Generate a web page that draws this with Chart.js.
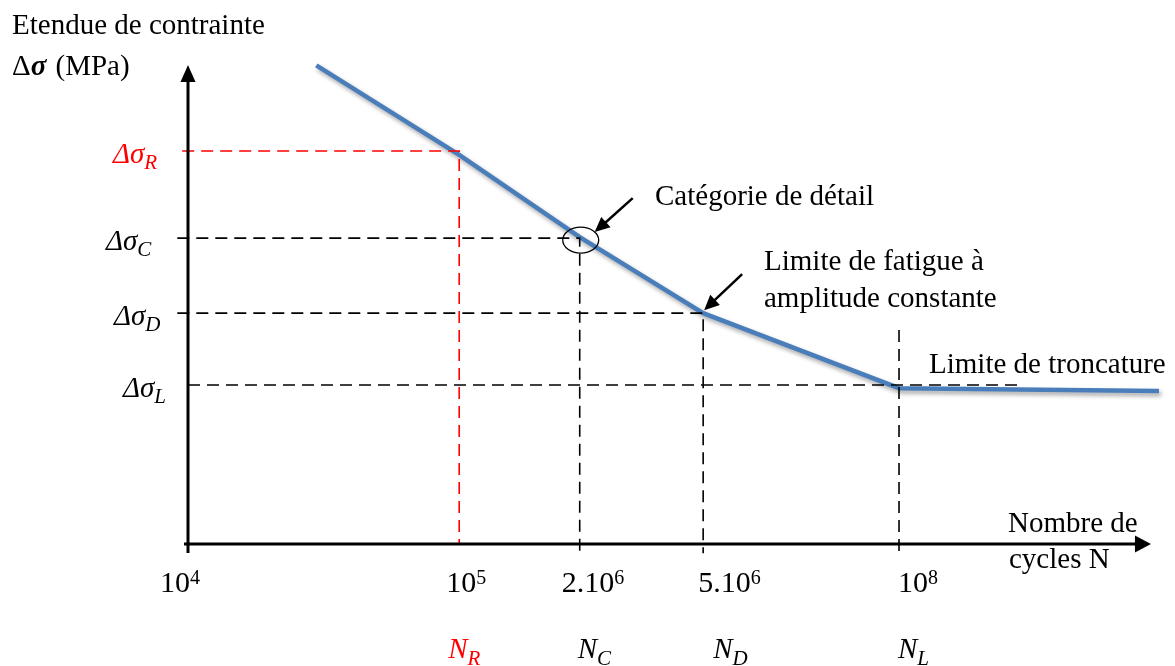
<!DOCTYPE html>
<html>
<head>
<meta charset="utf-8">
<script src="https://cdn.jsdelivr.net/npm/chart.js@4.4.1/dist/chart.umd.min.js"></script>
<style>
  html, body { margin: 0; padding: 0; background: #ffffff; }
  #wrap { width: 1175px; height: 666px; }
</style>
</head>
<body>
<div id="wrap"><canvas id="c" width="1175" height="666"></canvas></div>
<script>
// ---- data (schematic units) ----
const curveX = [13.2, 27.9, 40.3, 53.0, 73.15, 99.9];
const curveY = [98.9, 80.4, 63.4, 47.7, 32.2, 31.6];

const levelNames = ['R', 'C', 'D', 'L'];
const levelX = [27.9, 40.3, 53.0, 73.15];
const levelY = [81.2, 63.2, 47.7, 32.85];

const tickX = [0, 27.9, 40.3, 53.0, 73.15];
const tickBase = ['10', '10', '2.10', '5.10', '10'];
const tickExp = ['4', '5', '6', '6', '8'];

const yTitle1 = 'Etendue de contrainte';
const xTitle = ['Nombre de', 'cycles N'];
const noteC = 'Catégorie de détail';
const noteD = ['Limite de fatigue à', 'amplitude constante'];
const noteL = 'Limite de troncature';

// ---- styles / layout ----
const SERIF = '"Liberation Serif", "Times New Roman", serif';
const BLUE = '#4a7ebb';
const RED = '#ff0000';
const DASH = [12, 7];
const levelColors = [RED, '#000', '#000', '#000'];
const yLabelOffset = [-75, -82, -74, -65];
const tickShift = [-28, -13, -18, -5, -1];
const nShift = [-11, -2, 10, -1];

function dashedSets() {
  const sets = [];
  levelNames.forEach((n, i) => {
    const isR = n === 'R';
    const isL = n === 'L';
    const xStart = isR ? -0.6 : (isL ? 0 : -1.1);
    const yEnd = isR ? 0 : -1.9;
    if (isL) {
      sets.push({ data: [{x: xStart, y: levelY[i]}, {x: 85.6, y: levelY[i]}], borderColor: levelColors[i] });
      sets.push({ data: [{x: levelX[i], y: 44.2}, {x: levelX[i], y: yEnd}], borderColor: levelColors[i] });
    } else {
      sets.push({ data: [{x: xStart, y: levelY[i]}, {x: levelX[i], y: levelY[i]}, {x: levelX[i], y: yEnd}], borderColor: levelColors[i] });
    }
  });
  return sets.map(s => Object.assign(s, {
    borderWidth: 1.6, borderDash: DASH, pointRadius: 0, fill: false, tension: 0, clip: false, order: 1
  }));
}

const curveData = curveX.map((x, i) => ({x, y: curveY[i]}));

function arrowHead(ctx, x1, y1, x2, y2, len, hw) {
  const a = Math.atan2(y2 - y1, x2 - x1);
  ctx.beginPath();
  ctx.moveTo(x2, y2);
  ctx.lineTo(x2 - len * Math.cos(a) + hw * Math.sin(a), y2 - len * Math.sin(a) - hw * Math.cos(a));
  ctx.lineTo(x2 - len * Math.cos(a) - hw * Math.sin(a), y2 - len * Math.sin(a) + hw * Math.cos(a));
  ctx.closePath();
  ctx.fill();
}
function arrow(ctx, x1, y1, x2, y2, width, len, hw) {
  const a = Math.atan2(y2 - y1, x2 - x1);
  ctx.lineWidth = width;
  ctx.beginPath();
  ctx.moveTo(x1, y1);
  ctx.lineTo(x2 - (len - 2) * Math.cos(a), y2 - (len - 2) * Math.sin(a));
  ctx.stroke();
  arrowHead(ctx, x1, y1, x2, y2, len, hw);
}
function subText(ctx, x, base, main, sub, size, subSize, drop, italic, color) {
  ctx.fillStyle = color;
  ctx.textBaseline = 'alphabetic';
  ctx.textAlign = 'left';
  ctx.font = (italic ? 'italic ' : '') + size + 'px ' + SERIF;
  ctx.fillText(main, x, base);
  const w = ctx.measureText(main).width;
  ctx.font = (italic ? 'italic ' : '') + subSize + 'px ' + SERIF;
  ctx.fillText(sub, x + w, base + drop);
}

const shadowPlugin = {
  id: 'shadow',
  beforeDatasetDraw(chart, args) {
    if (args.index === 0) {
      const ctx = chart.ctx;
      ctx.save();
      ctx.shadowColor = 'rgba(0,0,0,0.35)';
      ctx.shadowBlur = 4;
      ctx.shadowOffsetX = 2;
      ctx.shadowOffsetY = 3;
    }
  },
  afterDatasetDraw(chart, args) {
    if (args.index === 0) chart.ctx.restore();
  }
};

const decoPlugin = {
  id: 'deco',
  afterDatasetsDraw(chart) {
    const ctx = chart.ctx;
    const xs = chart.scales.x, ys = chart.scales.y;
    const px = v => xs.getPixelForValue(v);
    const py = v => ys.getPixelForValue(v);
    const x0 = px(0), y0 = py(0);
    ctx.save();
    ctx.strokeStyle = '#000';
    ctx.fillStyle = '#000';
    ctx.lineCap = 'butt';
    // y axis
    ctx.lineWidth = 3;
    ctx.beginPath(); ctx.moveTo(x0, y0 + 9); ctx.lineTo(x0, py(98.97) + 14); ctx.stroke();
    arrowHead(ctx, x0, y0, x0, py(98.97), 17, 7.5);
    // x axis
    ctx.beginPath(); ctx.moveTo(x0 - 4, y0); ctx.lineTo(px(99.07) - 14, y0); ctx.stroke();
    arrowHead(ctx, x0, y0, px(99.07), y0, 16, 8.5);

    // y titles
    ctx.fillStyle = '#000';
    ctx.textAlign = 'left';
    ctx.textBaseline = 'alphabetic';
    ctx.font = '29px ' + SERIF;
    ctx.fillText(yTitle1, 12, 34);
    ctx.fillText('Δ', 12, 75);
    let w = ctx.measureText('Δ').width;
    ctx.font = 'bold italic 29px ' + SERIF;
    ctx.fillText('σ', 12 + w, 75);
    w += ctx.measureText('σ ').width;
    ctx.font = '29px ' + SERIF;
    ctx.fillText('(MPa)', 12 + w + 2, 75);

    // x title
    ctx.fillText(xTitle[0], 1008, 532);
    ctx.fillText(xTitle[1], 1009, 568);

    // level labels on y axis
    levelNames.forEach((n, i) => {
      subText(ctx, x0 + yLabelOffset[i], py(levelY[i]) + 12, 'Δσ', n, 29, 21, 6, true, levelColors[i]);
    });

    // tick labels
    tickX.forEach((v, i) => {
      subText(ctx, px(v) + tickShift[i], y0 + 48, tickBase[i], tickExp[i], 30, 20, -8, false, '#000');
    });
    // N labels
    levelNames.forEach((n, i) => {
      subText(ctx, px(levelX[i]) + nShift[i], y0 + 114, 'N', n, 29, 21, 7, true, levelColors[i]);
    });

    // annotations
    const cx = px(levelX[1]), cy = py(levelY[1]);
    ctx.strokeStyle = '#000';
    ctx.lineWidth = 1.3;
    ctx.beginPath(); ctx.ellipse(cx + 1, cy + 2, 18, 13, 0, 0, Math.PI * 2); ctx.stroke();
    ctx.fillStyle = '#000';
    arrow(ctx, cx + 53, cy - 40, cx + 15, cy - 6, 2.5, 15, 7);
    const dx = px(levelX[2]), dy = py(levelY[2]);
    arrow(ctx, dx + 39, dy - 39, dx + 1, dy - 3, 2.5, 15, 7);

    ctx.font = '29px ' + SERIF;
    ctx.fillStyle = '#000';
    ctx.fillText(noteC, 655, 205);
    ctx.fillText(noteD[0], 764, 270);
    ctx.fillText(noteD[1], 764, 307);
    ctx.fillText(noteL, 929, 373);
    ctx.restore();
  }
};

new Chart(document.getElementById('c'), {
  type: 'line',
  data: {
    datasets: [
      { data: curveData, borderColor: BLUE, borderWidth: 4.5, pointRadius: 0, fill: false, tension: 0, clip: false, order: 2, borderCapStyle: 'butt' },
      ...dashedSets()
    ]
  },
  options: {
    responsive: false,
    animation: false,
    devicePixelRatio: 1,
    layout: { padding: { left: 188, right: 15, top: 60, bottom: 122 } },
    scales: {
      x: { type: 'linear', min: 0, max: 100, display: false },
      y: { type: 'linear', min: 0, max: 100, display: false }
    },
    plugins: { legend: { display: false }, tooltip: { enabled: false } },
    events: []
  },
  plugins: [shadowPlugin, decoPlugin]
});
</script>
</body>
</html>
